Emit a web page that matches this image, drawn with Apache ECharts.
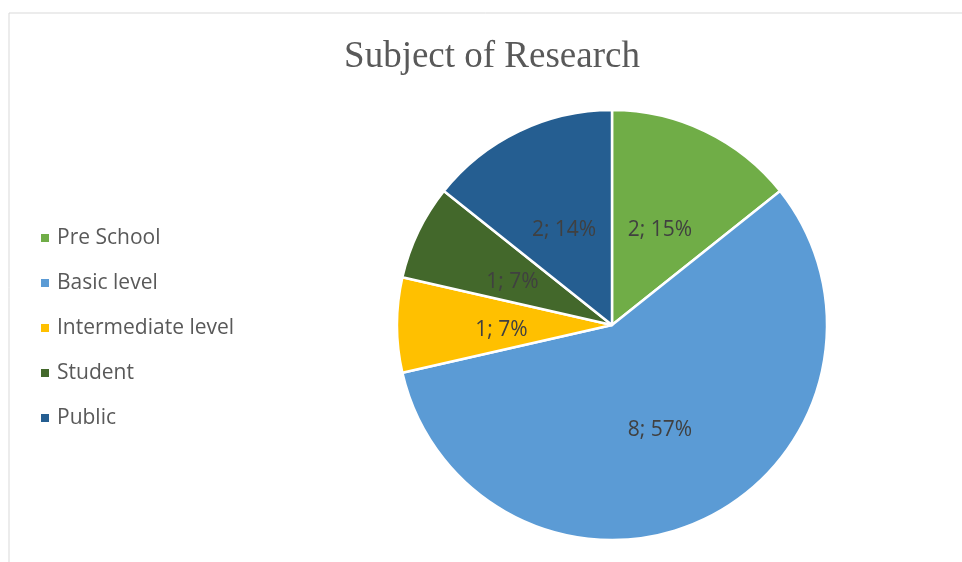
<!DOCTYPE html>
<html>
<head>
<meta charset="utf-8">
<script src="https://cdn.jsdelivr.net/npm/echarts@6/dist/echarts.min.js"></script>
<style>
  html, body { margin: 0; padding: 0; background: #fff; }
  #chart { width: 962px; height: 562px; }
</style>
</head>
<body>
<div id="chart"></div>
<script>
  // data
  const categories = ['Pre School', 'Basic level', 'Intermediate level', 'Student', 'Public']
  const values = [2, 8, 1, 1, 2]
  const percentLabels = ['15%', '57%', '7%', '7%', '14%']
  const colors = ['#70AD47', '#5B9BD5', '#FFC000', '#43682B', '#255E91']

  const chart = echarts.init(document.getElementById('chart'))

  chart.setOption({
    animation: false,
    color: colors,
    title: {
      text: 'Subject of Research',
      left: 487,
      top: 34,
      textAlign: 'center',
      textStyle: {
        fontFamily: 'Liberation Serif',
        fontWeight: 'normal',
        fontSize: 37,
        color: '#595959'
      }
    },
    graphic: [
      {
        type: 'line',
        shape: { x1: 9, y1: 13, x2: 962, y2: 13 },
        style: { stroke: '#d9d9d9', lineWidth: 1 }
      },
      {
        type: 'line',
        shape: { x1: 9, y1: 13, x2: 9, y2: 562 },
        style: { stroke: '#d9d9d9', lineWidth: 1 }
      }
    ],
    legend: {
      orient: 'vertical',
      left: 39,
      top: 226,
      padding: 0,
      icon: 'rect',
      itemWidth: 10,
      itemHeight: 10,
      itemGap: 21,
      textStyle: {
        fontFamily: 'Open Sans',
        fontSize: 21,
        lineHeight: 24,
        color: '#595959',
        padding: [0, 0, 0, 2]
      },
      data: categories
    },
    series: [
      {
        type: 'pie',
        center: [612, 325],
        radius: 215,
        startAngle: 90,
        clockwise: true,
        itemStyle: { borderColor: '#fff', borderWidth: 2.5 },
        label: {
          position: 'inside',
          formatter: (p) => p.value + '; ' + percentLabels[p.dataIndex],
          fontFamily: 'Open Sans',
          fontSize: 21,
          color: '#404040',
          offset: [0, 5]
        },
        labelLine: { show: false },
        emphasis: { disabled: true },
        data: categories.map((name, i) => ({ name: name, value: values[i] }))
      }
    ]
  })
</script>
</body>
</html>
